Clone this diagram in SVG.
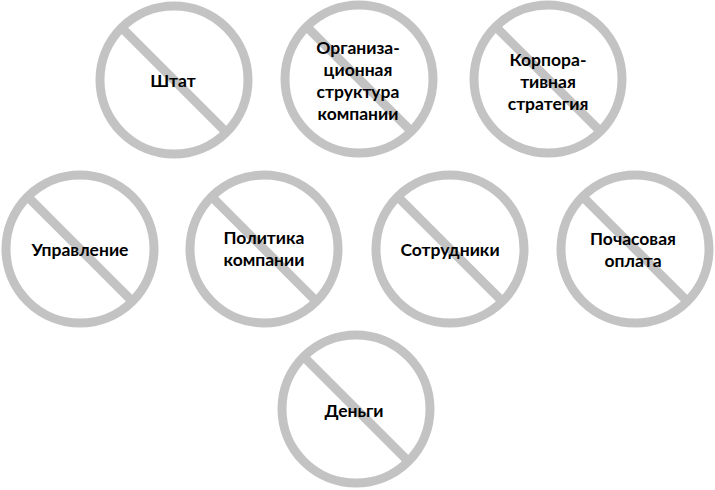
<svg xmlns="http://www.w3.org/2000/svg" width="715" height="490" viewBox="0 0 715 490">
<style>
.ring{fill:none;stroke:#c3c3c3;stroke-width:9}
.slash{stroke:#c3c3c3;stroke-width:9}
text{font-family:Lato,"Liberation Sans",sans-serif;font-weight:bold;font-size:17.5px;fill:#000;text-anchor:middle;dominant-baseline:central}
</style>
<defs>
<g id="no">
<circle class="ring" cx="0" cy="0" r="74"/>
<line class="slash" x1="-52" y1="-52" x2="52" y2="52"/>
</g>
</defs>
<rect width="715" height="490" fill="#fff"/>
<g id="connectors"></g>
<g id="n1"><use href="#no" x="174" y="80"/><text x="173" y="80">Штат</text></g>
<g id="n2"><use href="#no" x="359" y="79"/><text x="358" y="47">Организа-</text><text x="358" y="69">ционная</text><text x="358" y="91">структура</text><text x="358" y="113">компании</text></g>
<g id="n3"><use href="#no" x="548" y="79"/><text x="548" y="59">Корпора-</text><text x="548" y="81">тивная</text><text x="548" y="103">стратегия</text></g>
<g id="n4"><use href="#no" x="80" y="249"/><text x="80" y="249">Управление</text></g>
<g id="n5"><use href="#no" x="264" y="249"/><text x="264" y="237">Политика</text><text x="264" y="259">компании</text></g>
<g id="n6"><use href="#no" x="450" y="249"/><text x="450" y="249">Сотрудники</text></g>
<g id="n7"><use href="#no" x="635" y="249"/><text x="633" y="238">Почасовая</text><text x="633" y="260">оплата</text></g>
<g id="n8"><use href="#no" x="356" y="409"/><text x="354" y="410">Деньги</text></g>
</svg>
